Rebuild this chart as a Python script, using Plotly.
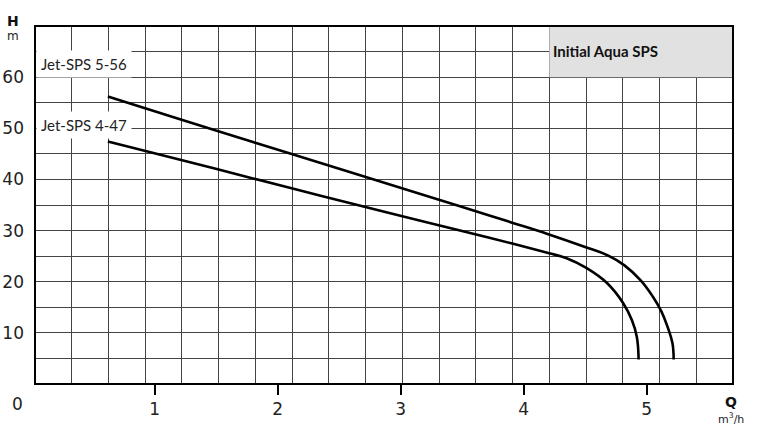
import plotly.graph_objects as go

# ---- data ----
q_ticks = [1, 2, 3, 4, 5]
h_ticks = [10, 20, 30, 40, 50, 60]

sps556_q = [0.62, 1.2, 1.8, 2.35, 2.9, 3.45, 3.9, 4.2, 4.5, 4.68, 4.82, 4.95, 5.05, 5.12, 5.17, 5.21, 5.22]
sps556_h = [56.2, 51.8, 47.3, 43.2, 39.1, 35.0, 31.6, 29.3, 26.8, 25.2, 23.2, 20.3, 17.1, 14.2, 11.2, 8.0, 4.8]

sps447_q = [0.62, 1.2, 1.8, 2.35, 2.9, 3.45, 3.9, 4.2, 4.35, 4.51, 4.68, 4.81, 4.88, 4.92, 4.935]
sps447_h = [47.4, 43.9, 40.2, 36.8, 33.5, 30.2, 27.5, 25.6, 24.6, 22.7, 19.7, 15.8, 12.5, 9.3, 4.8]

series_names = ["Jet-SPS 5-56", "Jet-SPS 4-47"]
title_text = "Initial Aqua SPS"

# ---- layout geometry (screen pixels of the reference) ----
W, H = 765, 439
L, R, T, B = 35, 733, 26, 384


def px(x):
    return (x - L) / (R - L)


def py(y):
    return (B - y) / (B - T)


fig = go.Figure()
for name, qs, hs in [(series_names[0], sps556_q, sps556_h), (series_names[1], sps447_q, sps447_h)]:
    fig.add_trace(go.Scatter(
        x=qs, y=hs, mode="lines", name=name, xaxis="x2", yaxis="y",
        line=dict(color="black", width=2.6, shape="spline", smoothing=1.2),
        showlegend=False, hoverinfo="skip"))

grid_col = "#444444"

# Q-axis scale: px = 31.6 + 123*Q
q0 = (L - 31.6) / 123.0
q1 = (R - 31.6) / 123.0

tick_font = dict(family="DejaVu Sans", size=17, color="#222")

fig.update_layout(
    width=W, height=H,
    margin=dict(l=L, r=W - R, t=T, b=H - B, pad=0, autoexpand=False),
    paper_bgcolor="white", plot_bgcolor="white",
    xaxis=dict(range=[0, 19], dtick=1, tick0=0, showgrid=True, gridcolor=grid_col, gridwidth=1.3,
               showticklabels=False, zeroline=False, showline=False, ticks="", automargin=False),
    xaxis2=dict(overlaying="x", anchor="y", side="bottom", range=[q0, q1], tickvals=q_ticks,
                ticks="outside", ticklen=10, tickwidth=1.5, tickcolor="black",
                showgrid=False, zeroline=False, showline=False, automargin=False,
                tickfont=tick_font),
    yaxis=dict(range=[0, 70], tickvals=h_ticks,
               showgrid=True, gridcolor=grid_col, gridwidth=1.3, zeroline=False, showline=False,
               minor=dict(dtick=5, tick0=0, showgrid=True, gridcolor=grid_col, gridwidth=1.3, ticks=""),
               ticks="", ticklabelstandoff=10, automargin=False,
               tickfont=tick_font),
    shapes=[
        dict(type="rect", xref="x", yref="y", x0=14, x1=19, y0=60, y1=70,
             fillcolor="#e1e1e1", line=dict(width=0), layer="above"),
        dict(type="rect", xref="paper", yref="paper", x0=0, x1=1, y0=0, y1=1,
             line=dict(color="black", width=2), layer="above"),
    ],
)

ann = []
lab_font = dict(family="Lato", size=15, color="#222")
ann.append(dict(text=series_names[0], xref="paper", yref="paper", x=px(36), y=py(64.5),
                xanchor="left", yanchor="middle", showarrow=False, font=lab_font,
                bgcolor="white", borderpad=4))
ann.append(dict(text=series_names[1], xref="paper", yref="paper", x=px(36), y=py(125),
                xanchor="left", yanchor="middle", showarrow=False, font=lab_font,
                bgcolor="white", borderpad=4))
ann.append(dict(text="<b>" + title_text + "</b>", xref="paper", yref="paper", x=px(551), y=py(51),
                xanchor="left", yanchor="middle", showarrow=False,
                font=dict(family="Lato", size=15, color="#111")))
ann.append(dict(text="<b>H</b>", xref="paper", yref="paper", x=px(13), y=py(21),
                xanchor="center", yanchor="middle", showarrow=False,
                font=dict(family="DejaVu Sans", size=14, color="#111")))
ann.append(dict(text="m", xref="paper", yref="paper", x=px(13), y=py(36),
                xanchor="center", yanchor="middle", showarrow=False,
                font=dict(family="DejaVu Sans", size=12, color="#222")))
ann.append(dict(text="0", xref="paper", yref="paper", x=px(17.5), y=py(404),
                xanchor="center", yanchor="middle", showarrow=False,
                font=tick_font))
ann.append(dict(text="<b>Q</b>", xref="paper", yref="paper", x=px(731), y=py(402),
                xanchor="center", yanchor="middle", showarrow=False,
                font=dict(family="DejaVu Sans", size=14, color="#111")))
ann.append(dict(text="m<sup>3</sup>/h", xref="paper", yref="paper", x=px(731), y=py(418),
                xanchor="center", yanchor="middle", showarrow=False,
                font=dict(family="DejaVu Sans", size=11, color="#222")))
fig.update_layout(annotations=ann)

fig.write_html("out.html", config={"displayModeBar": False},
               post_script="document.body.style.margin='0px';")
